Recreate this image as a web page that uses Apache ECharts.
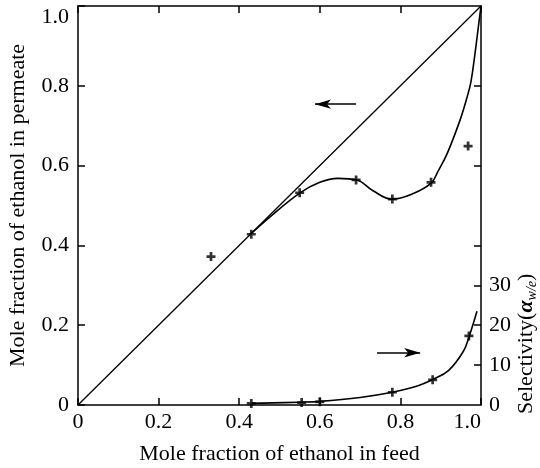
<!DOCTYPE html>
<html>
<head>
<meta charset="utf-8">
<script src="https://cdn.jsdelivr.net/npm/echarts@6/dist/echarts.min.js"></script>
<style>
html,body{margin:0;padding:0;background:#fff;}
#main{width:540px;height:468px;}
</style>
</head>
<body>
<div id="main"></div>
<script>
// 对角线 y = x
var diagLine = [[0, 0], [1, 1]];
// 透过液乙醇摩尔分数 曲线 + 实测点
var permCurve = [[0.43,0.43],[0.476,0.471],[0.55,0.531],[0.6,0.558],[0.645,0.568],[0.692,0.564],
    [0.732,0.537],[0.779,0.516],[0.832,0.53],[0.876,0.556],[0.893,0.585],[0.916,0.63],
    [0.948,0.714],[0.965,0.77],[0.975,0.81],[0.985,0.88],[0.995,0.96],[1.0,1.0]];
var permPoints = [[0.33,0.372],[0.43,0.428],[0.55,0.532],[0.69,0.564],[0.78,0.516],[0.876,0.558],[0.968,0.649]];
// 选择性 曲线 + 实测点 (右轴)
var selCurve = [[0.43,0.4],[0.55,0.7],[0.6,0.9],[0.7,1.9],[0.78,3.2],[0.84,4.7],[0.88,6.4],
    [0.92,8.7],[0.956,13.4],[0.97,17],[0.99,23.5]];
var selPoints = [[0.43,0.4],[0.555,0.6],[0.6,0.8],[0.78,3.2],[0.88,6.3],[0.97,17.3]];
// 箭头
var leftArrow = [[0.69,0.754],[0.588,0.754]];
var rightArrow = [[0.742,13.1],[0.849,13.1]];
var selTicks = [10,20,30,40,60,80];
var selLabels = [0,10,20,30];

var FONT = 'Liberation Serif';
var FS = 22;
var plus = 'path://M3.5,0H6.5V3.5H10V6.5H6.5V10H3.5V6.5H0V3.5H3.5Z';
var fmt = function (v) { return v === 0 ? '0' : v.toFixed(1); };
var ink = '#000';

var chart = echarts.init(document.getElementById('main'));
var option = {
    backgroundColor: '#fff',
    animation: false,
    grid: {left: 78, right: 59, top: 6, bottom: 63, outerBoundsMode: 'none', containLabel: false},
    xAxis: [{
        type: 'value', min: 0, max: 1, interval: 0.2,
        name: 'Mole fraction of ethanol in feed',
        nameLocation: 'middle', nameGap: 38,
        nameTextStyle: {fontFamily: FONT, fontSize: FS, color: ink},
        axisLine: {onZero: false, lineStyle: {color: ink, width: 1.5}},
        axisTick: {inside: true, length: 7, lineStyle: {color: ink, width: 1.5}},
        axisLabel: {formatter: fmt, fontFamily: FONT, fontSize: FS, color: ink, margin: 6, alignMaxLabel: 'right'},
        splitLine: {show: false}
    }, {
        type: 'value', min: 0, max: 1, interval: 0.2, position: 'top',
        axisLine: {show: true, onZero: false, lineStyle: {color: ink, width: 1.5}},
        axisTick: {inside: true, length: 7, lineStyle: {color: ink, width: 1.5}},
        axisLabel: {show: false},
        splitLine: {show: false}
    }],
    yAxis: [{
        type: 'value', min: 0, max: 1, interval: 0.2,
        name: 'Mole fraction of ethanol in permeate',
        nameLocation: 'middle', nameGap: 49,
        nameTextStyle: {fontFamily: FONT, fontSize: FS, color: ink},
        axisLine: {show: true, onZero: false, lineStyle: {color: ink, width: 1.5}},
        axisTick: {inside: true, length: 7, lineStyle: {color: ink, width: 1.5}},
        axisLabel: {formatter: fmt, fontFamily: FONT, fontSize: FS, color: ink, margin: 9, verticalAlignMaxLabel: 'top'},
        splitLine: {show: false}
    }, {
        type: 'value', min: 0, max: 100, interval: 10, position: 'right',
        axisLine: {show: true, onZero: false, lineStyle: {color: ink, width: 1.5}},
        axisTick: {show: true, inside: true, length: 7, customValues: selTicks, lineStyle: {color: ink, width: 1.5}},
        axisLabel: {customValues: selLabels, fontFamily: FONT, fontSize: FS, color: ink, margin: 8},
        splitLine: {show: false}
    }],
    graphic: [{
        type: 'text',
        x: 513, y: 414,
        rotation: Math.PI / 2,
        style: {
            text: 'Selectivity({a|α}{s|w/e})',
            fill: ink,
            font: FS + 'px "Liberation Serif"',
            rich: {
                a: {fontFamily: FONT, fontSize: FS, fontWeight: 'bold', fontStyle: 'italic', fill: ink},
                s: {fontFamily: FONT, fontSize: 14, fontStyle: 'italic', fill: ink, verticalAlign: 'bottom', padding: [12, 0, 0, 0]}
            }
        }
    }],
    series: [{
        type: 'line', data: diagLine, symbol: 'none',
        lineStyle: {color: ink, width: 1.3}
    }, {
        type: 'line', data: permCurve, symbol: 'none', smooth: 0.4,
        lineStyle: {color: ink, width: 1.6}
    }, {
        type: 'scatter', data: permPoints, symbol: plus, symbolSize: 9,
        itemStyle: {color: ink}
    }, {
        type: 'line', yAxisIndex: 1, data: selCurve, symbol: 'none', smooth: 0.4,
        lineStyle: {color: ink, width: 1.6}
    }, {
        type: 'scatter', yAxisIndex: 1, data: selPoints, symbol: plus, symbolSize: 9,
        itemStyle: {color: ink}
    }, {
        type: 'line', data: [], symbol: 'none',
        markLine: {
            silent: true, symbol: ['none', 'arrow'], symbolSize: [7, 16],
            label: {show: false},
            lineStyle: {color: ink, width: 1.6, type: 'solid'},
            data: [[{coord: leftArrow[0]}, {coord: leftArrow[1]}]]
        }
    }, {
        type: 'line', yAxisIndex: 1, data: [], symbol: 'none',
        markLine: {
            silent: true, symbol: ['none', 'arrow'], symbolSize: [7, 16],
            label: {show: false},
            lineStyle: {color: ink, width: 1.6, type: 'solid'},
            data: [[{coord: rightArrow[0]}, {coord: rightArrow[1]}]]
        }
    }]
};
chart.setOption(option);
</script>
</body>
</html>
